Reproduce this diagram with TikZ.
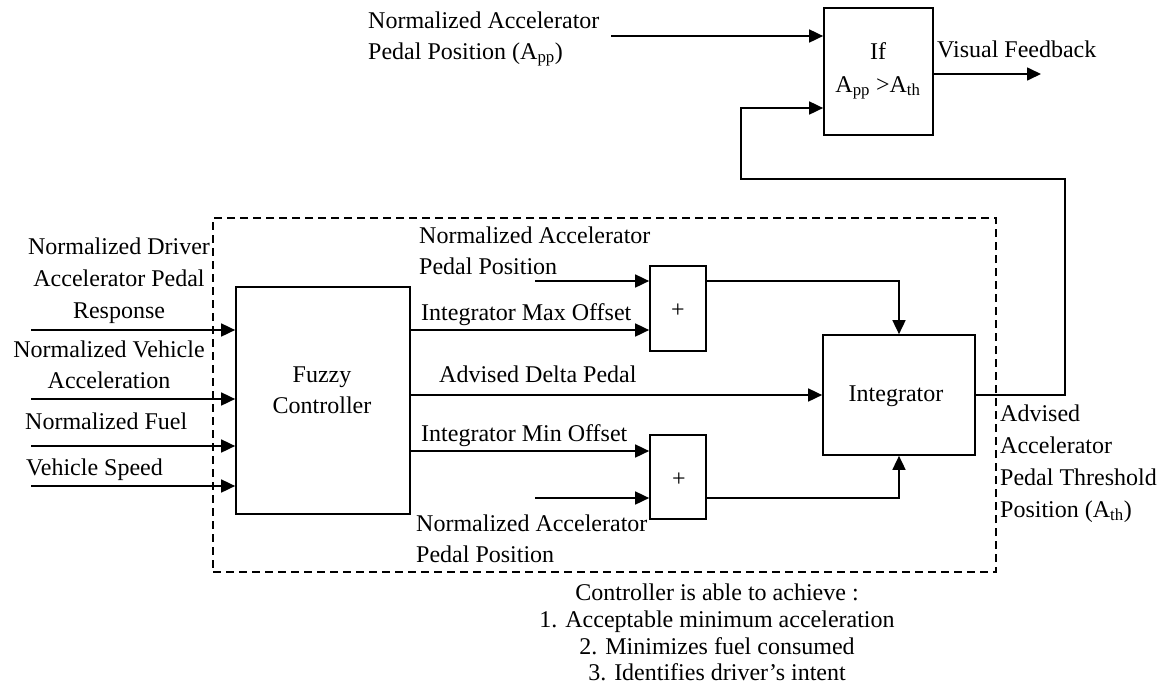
\documentclass[tikz,border=0pt]{standalone}
\usepackage{fontspec}
\setmainfont{Liberation Serif}
\usetikzlibrary{arrows.meta}
\begin{document}
\begin{tikzpicture}[x=1pt,y=-1pt,
  every node/.style={inner sep=0pt, font=\fontsize{24}{31}\selectfont},
  blk/.style={draw, line width=1.7pt, rectangle},
  arr/.style={line width=1.7pt, -{Triangle[length=14pt,width=13pt]}},
  frame/.style={draw, line width=1.6pt, dash pattern=on 8pt off 5pt},
  txl/.style={anchor=base west},
  txc/.style={anchor=base}]
\useasboundingbox (0,0) rectangle (1160,686);

% ---- blocks ----
\node[blk, minimum width=109pt, minimum height=127pt] (ifbox) at (878.5,71.5) {};
\node[frame, minimum width=783pt, minimum height=354pt] (ctrl) at (604.5,395) {};
\node[blk, minimum width=174pt, minimum height=227pt] (fuzzy) at (323,400.5) {};
\node[blk, minimum width=56pt, minimum height=85pt] (plusA) at (678,308.5) {};
\node[blk, minimum width=56pt, minimum height=84pt] (plusB) at (678,477) {};
\node[blk, minimum width=152pt, minimum height=120pt] (integ) at (899,395) {};

% ---- block labels ----
\node[txc] (ifl1) at (878,59) {If};
\node[txc] (ifl2) at (878,92) {A\textsubscript{pp} >A\textsubscript{th}};
\node[txc] (fz1) at (322,382) {Fuzzy};
\node[txc] (fz2) at (322,413) {Controller};
\node (plA) at (678,311) {+};
\node (plB) at (679,480) {+};
\node[txc] (intl) at (896,401) {Integrator};

% ---- signal labels ----
\node[txl] (ta1) at (368,28) {Normalized Accelerator};
\node[txl] (ta2) at (368,59) {Pedal Position (A\textsubscript{pp})};
\node[txl] (vf) at (937,57) {Visual Feedback};

\node[txc] (l1) at (119,254) {Normalized Driver};
\node[txc] (l2) at (119,286) {Accelerator Pedal};
\node[txc] (l3) at (119,318) {Response};
\node[txc] (l4) at (109,357) {Normalized Vehicle};
\node[txc] (l5) at (109,388) {Acceleration};
\node[txl] (l6) at (25,429) {Normalized Fuel};
\node[txl] (l7) at (26,475) {Vehicle Speed};

\node[txl] (na1) at (419,243) {Normalized Accelerator};
\node[txl] (na2) at (419,274) {Pedal Position};
\node[txl] (imax) at (421,320) {Integrator Max Offset};
\node[txl] (adp) at (439,382) {Advised Delta Pedal};
\node[txl] (imin) at (421,441) {Integrator Min Offset};
\node[txl] (nb1) at (416,531) {Normalized Accelerator};
\node[txl] (nb2) at (416,562) {Pedal Position};

\node[txl] (r1) at (1000,421) {Advised};
\node[txl] (r2) at (1000,453) {Accelerator};
\node[txl] (r3) at (1000,485) {Pedal Threshold};
\node[txl] (r4) at (1000,517) {Position (A\textsubscript{th})};

\node[txc] (b1) at (717,600) {Controller is able to achieve :};
\node[txc] (b2) at (717,627) {1. Acceptable minimum acceleration};
\node[txc] (b3) at (717,654) {2. Minimizes fuel consumed};
\node[txc] (b4) at (717,680) {3. Identifies driver’s intent};

% ---- connectors ----
\coordinate (appsrc) at (611,36);
\draw[arr] (appsrc) -- (appsrc -| ifbox.west);
\coordinate (vfend) at (1041,74);
\draw[arr] (vfend -| ifbox.east) -- (vfend);
\coordinate (fbR) at (1065,179);
\coordinate (fbL) at (741,108);
\draw[arr] (integ.east) -| (fbR) -| (fbL) -- (fbL -| ifbox.west);

\coordinate (in1) at (31,330);
\coordinate (in2) at (31,399);
\coordinate (in3) at (31,446);
\coordinate (in4) at (31,486);
\draw[arr] (in1) -- (in1 -| fuzzy.west);
\draw[arr] (in2) -- (in2 -| fuzzy.west);
\draw[arr] (in3) -- (in3 -| fuzzy.west);
\draw[arr] (in4) -- (in4 -| fuzzy.west);

\coordinate (ymax) at (0,330);
\coordinate (ymin) at (0,451);
\coordinate (napA) at (535,281);
\coordinate (napB) at (535,498);
\draw[arr] (napA) -- (napA -| plusA.west);
\draw[arr] (fuzzy.east |- ymax) -- (plusA.west |- ymax);
\draw[arr] (fuzzy.east |- integ.west) -- (integ.west);
\draw[arr] (fuzzy.east |- ymin) -- (plusB.west |- ymin);
\draw[arr] (napB) -- (napB -| plusB.west);
\draw[arr] (plusA.east |- napA) -| (integ.north);
\draw[arr] (plusB.east |- napB) -| (integ.south);
\end{tikzpicture}
\end{document}
